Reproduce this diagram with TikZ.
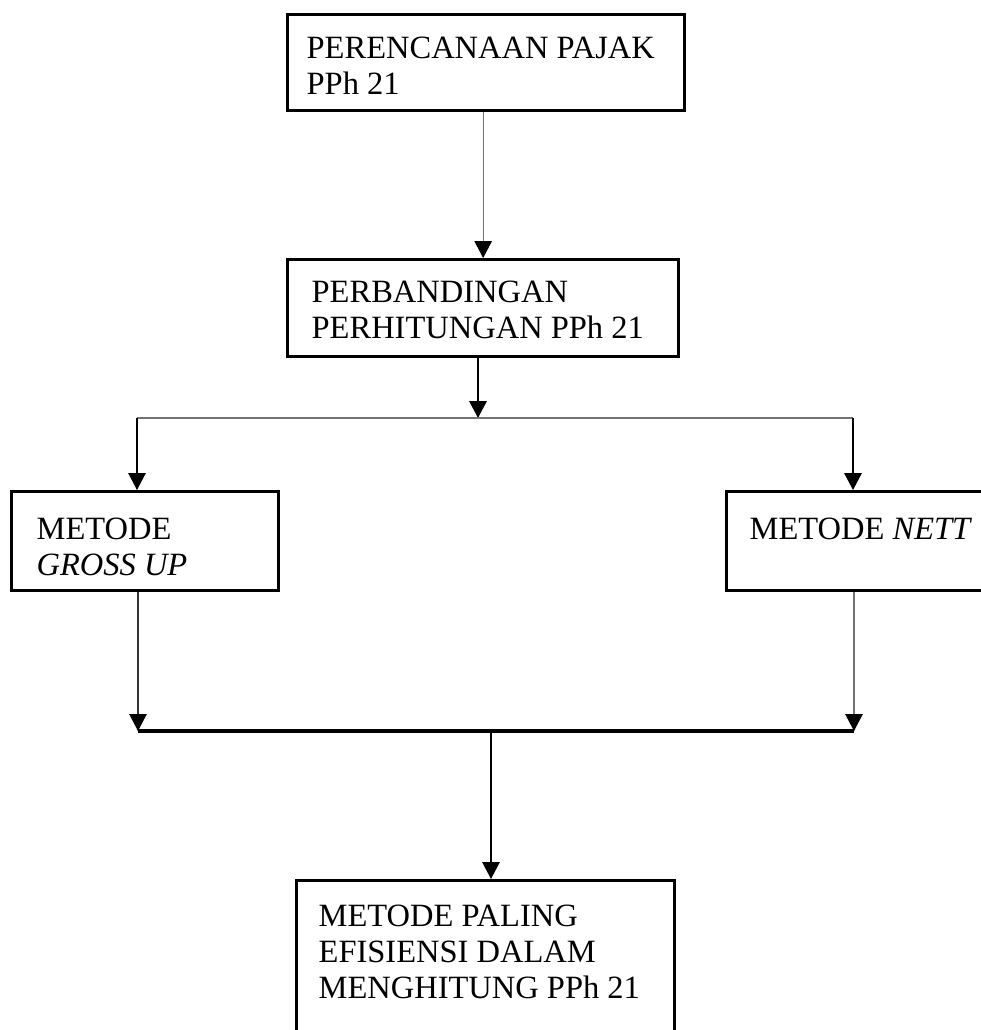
\documentclass[tikz,border=0pt]{standalone}
\usepackage{fontspec}
\setmainfont{Liberation Serif}
\usetikzlibrary{arrows.meta}
% #1 height, #2 width, #3 left padding, #4 top padding, #5 text
\newcommand\boxcontent[5]{\parbox[c][#1][t]{#2}{\raggedright\leftskip=#3\relax\vspace*{#4}\strut #5}}
\begin{document}
\begin{tikzpicture}[x=1pt,y=-1pt,
  bx/.style={draw=black, line width=3.3pt, inner sep=0pt, anchor=north west,
    font=\fontsize{32.5}{36}\selectfont},
  arr/.style={-{Triangle[width=17.5pt,length=17pt,color=black]}},
  thinblack/.style={line width=1.3pt, black},
  thingray/.style={line width=1.3pt, black!55},
  thickline/.style={line width=3.3pt, black}]
\useasboundingbox (0,0) rectangle (981,1030);

\node[bx] (b1) at (286,13) {\boxcontent{96pt}{397pt}{19pt}{18.8pt}{PERENCANAAN PAJAK\\PPh 21}};
\node[bx] (b2) at (286,258) {\boxcontent{97pt}{391pt}{24pt}{17.8pt}{PERBANDINGAN\\PERHITUNGAN PPh 21}};
\node[bx] (b3) at (10,490) {\boxcontent{99pt}{267pt}{25pt}{22.8pt}{METODE\\\textit{GROSS UP}}};
\node[bx] (b4) at (725,490) {\boxcontent{99pt}{270pt}{23pt}{22.8pt}{METODE \textit{NETT}}};
\node[bx] (b5) at (295,879) {\boxcontent{165pt}{378pt}{22pt}{20.8pt}{METODE PALING\\EFISIENSI DALAM\\MENGHITUNG PPh 21}};

\coordinate (j) at (478,418);
\coordinate (hl) at (137,418);
\coordinate (hr) at (853,418);
\coordinate (bl) at (138,731);
\coordinate (br) at (854,731);
\coordinate (bc) at (491,731);

\draw[thingray, arr] (b1.south -| b2.north) -- (b2.north);
\draw[thinblack, line width=1.6pt, arr] (b2.south -| j) -- (j);
\draw[thingray] (hl) -- (hr);
\draw[thinblack, arr] (hl) -- (hl |- b3.north);
\draw[thinblack, line width=1.6pt, arr] (hr) -- (hr |- b4.north);
\draw[thinblack, black!80, arr] (b3.south -| bl) -- (bl);
\draw[thingray, arr] (b4.south -| br) -- (br);
\draw[thickline] (bl) -- (br);
\draw[thinblack, arr] (bc) -- (bc |- b5.north);
\end{tikzpicture}
\end{document}
